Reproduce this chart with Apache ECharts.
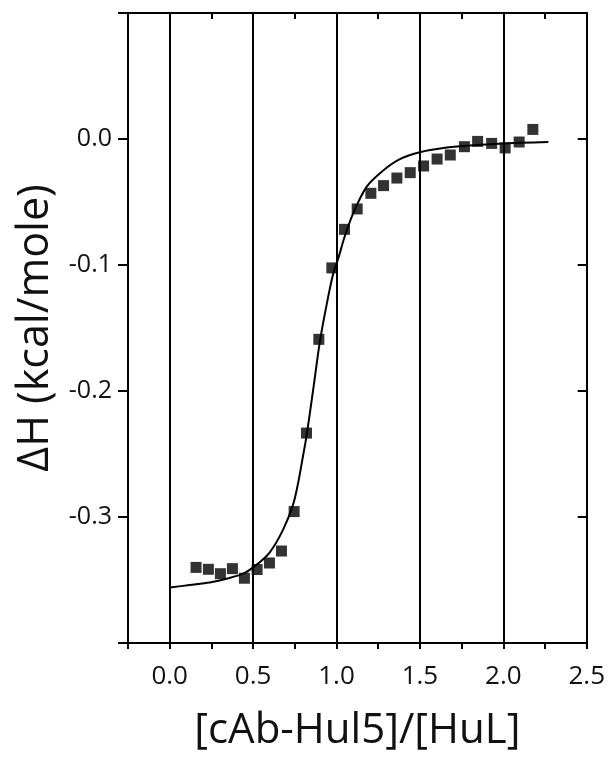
<!DOCTYPE html>
<html>
<head>
<meta charset="utf-8">
<script src="https://cdn.jsdelivr.net/npm/echarts@6/dist/echarts.min.js"></script>
<style>html,body{margin:0;padding:0;background:#fff;}#c{width:608px;height:758px;}</style>
</head>
<body>
<div id="c"></div>
<script>
// Measured injection points: molar ratio and heat
const ratioX = [0.158,0.232,0.304,0.376,0.448,0.524,0.598,0.670,0.746,0.820,0.894,0.972,1.048,1.124,1.206,1.282,1.362,1.442,1.522,1.603,1.682,1.767,1.846,1.930,2.011,2.095,2.177];
const heatY  = [-0.340,-0.3415,-0.345,-0.341,-0.3486,-0.3417,-0.3365,-0.327,-0.2957,-0.2334,-0.159,-0.1023,-0.0717,-0.0555,-0.0431,-0.037,-0.031,-0.0267,-0.0214,-0.0159,-0.0127,-0.0061,-0.0019,-0.0035,-0.0071,-0.0024,0.0076];
// Fit curve
const fitX = [0.0,0.12,0.24,0.34,0.44,0.52,0.60,0.68,0.74,0.77,0.80,0.82,0.86,0.90,0.94,0.98,1.01,1.05,1.10,1.18,1.28,1.38,1.50,1.65,1.78,2.00,2.27];
const fitY = [-0.356,-0.354,-0.352,-0.349,-0.345,-0.338,-0.328,-0.310,-0.290,-0.273,-0.251,-0.236,-0.199,-0.161,-0.132,-0.107,-0.095,-0.077,-0.059,-0.038,-0.025,-0.016,-0.0105,-0.007,-0.0053,-0.0035,-0.0024];
const gridX = [0, 0.5, 1.0, 1.5, 2.0];
const xTickLabels = ['0.0','0.5','1.0','1.5','2.0','2.5'];
const yTickLabels = ['0.0','-0.1','-0.2','-0.3'];
const xTitle = '[cAb-Hul5]/[HuL]';
const yTitle = 'ΔH (kcal/mole)';

const FONT = 'Open Sans';
const fmt = v => (Math.abs(v) < 1e-9 ? 0 : v).toFixed(1);
const chart = echarts.init(document.getElementById('c'), null, {renderer: 'canvas'});
const axisLine = {show: true, onZero: false, lineStyle: {color: '#000', width: 2}};
chart.setOption({
  animation: false,
  backgroundColor: '#fff',
  grid: {left: 128, right: 21, top: 13, bottom: 115, containLabel: false},
  xAxis: [{
    type: 'value', position: 'bottom', min: -0.25, max: 2.5, interval: 0.25,
    axisLine: axisLine,
    axisTick: {show: true, inside: false, length: 6, lineStyle: {color: '#000', width: 2}},
    splitLine: {show: false},
    axisLabel: {show: true, margin: 21, color: '#111', fontFamily: FONT, fontSize: 26,
      formatter: v => { const s = fmt(v); return xTickLabels.includes(s) ? s : ''; }},
    name: xTitle, nameLocation: 'middle', nameGap: 67,
    nameTextStyle: {color: '#111', fontFamily: FONT, fontSize: 42}
  }, {
    type: 'value', position: 'top', min: -0.25, max: 2.5, interval: 0.25,
    axisLine: axisLine,
    axisTick: {show: true, inside: true, length: 6, lineStyle: {color: '#000', width: 2}},
    splitLine: {show: false}, axisLabel: {show: false}
  }],
  yAxis: [{
    type: 'value', position: 'left', min: -0.4, max: 0.1, interval: 0.1,
    axisLine: axisLine,
    axisTick: {show: true, inside: false, length: 10, lineStyle: {color: '#000', width: 2}},
    splitLine: {show: false},
    axisLabel: {show: true, margin: 16, color: '#111', fontFamily: FONT, fontSize: 25,
      formatter: v => { const s = fmt(v); return yTickLabels.includes(s) ? s : ''; }},
    name: yTitle, nameLocation: 'middle', nameGap: 71, nameRotate: 90,
    nameTextStyle: {color: '#111', fontFamily: FONT, fontSize: 43}
  }, {
    type: 'value', position: 'right', min: -0.4, max: 0.1, interval: 0.1,
    axisLine: axisLine,
    axisTick: {show: true, inside: true, length: 9, lineStyle: {color: '#000', width: 2}},
    splitLine: {show: false}, axisLabel: {show: false}
  }],
  series: [{
    type: 'line', name: 'grid', data: [], silent: true,
    markLine: {silent: true, symbol: ['none','none'], label: {show: false},
      lineStyle: {color: '#000', width: 2, type: 'solid'},
      data: gridX.map(v => ({xAxis: v}))}
  }, {
    type: 'line', name: 'fit', data: fitX.map((x, i) => [x, fitY[i]]),
    smooth: 0.3, showSymbol: false, symbol: 'none',
    lineStyle: {color: '#000', width: 2}
  }, {
    type: 'scatter', name: 'data', data: ratioX.map((x, i) => [x, heatY[i]]),
    symbol: 'rect', symbolSize: 11, itemStyle: {color: '#000'}
  }]
});
</script>
</body>
</html>
